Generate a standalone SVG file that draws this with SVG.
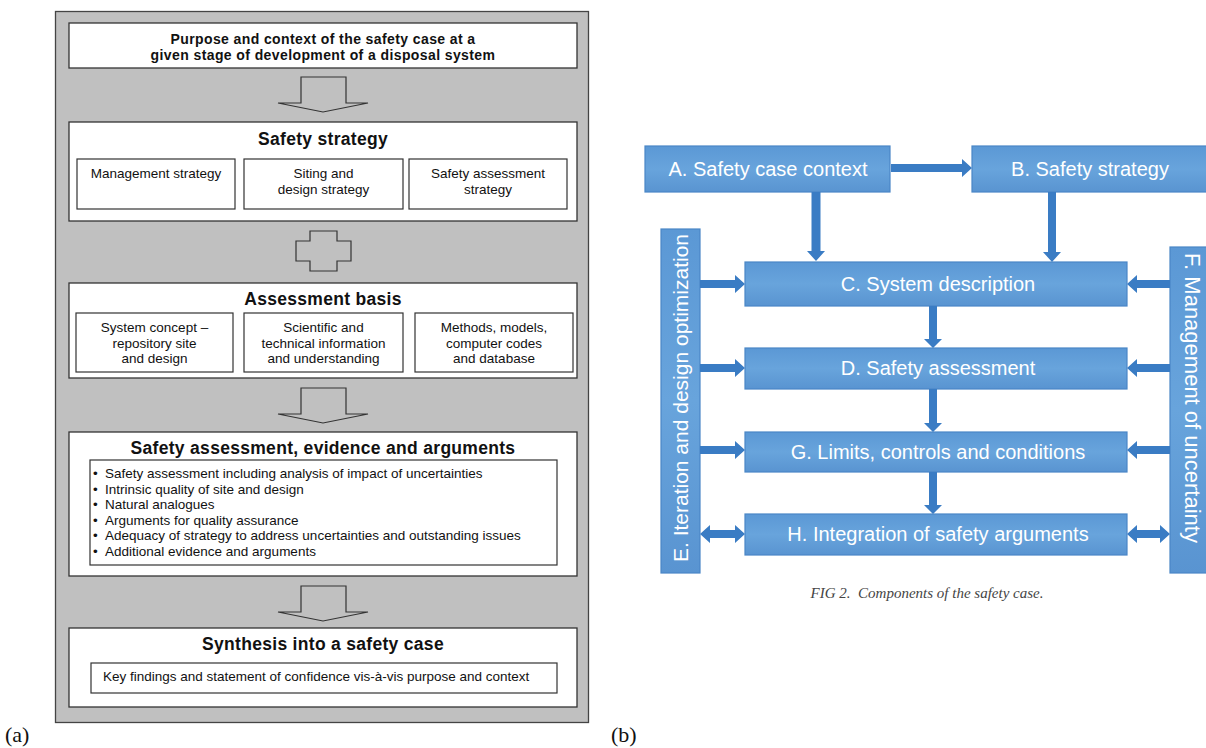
<svg xmlns="http://www.w3.org/2000/svg" width="1206" height="748" viewBox="0 0 1206 748">
<defs>
<style>
.wb{fill:#fff;stroke:#333;stroke-width:1.3}
.sb{fill:#fff;stroke:#333;stroke-width:1.2}
.blk{fill:none;stroke:#333;stroke-width:1.2}
.t13b{font-family:"Liberation Sans",Arial,sans-serif;font-size:14px;letter-spacing:0.4px;font-weight:bold;fill:#111;text-anchor:middle}
.t16b{font-family:"Liberation Sans",Arial,sans-serif;font-size:17.5px;letter-spacing:0.3px;font-weight:bold;fill:#111;text-anchor:middle}
.t13{font-family:"Liberation Sans",Arial,sans-serif;font-size:13.5px;fill:#111;text-anchor:middle}
.t12{font-family:"Liberation Sans",Arial,sans-serif;font-size:13.5px;fill:#111}
.bx{fill:url(#bg);stroke:#4a86c6;stroke-width:1.2}
.wt{font-family:"Liberation Sans",Arial,sans-serif;font-size:20px;fill:#fff;text-anchor:middle}
.ar{fill:#3a7cc4}
.lab{font-family:"Liberation Serif","Times New Roman",serif;font-size:22px;fill:#111}
</style>
<linearGradient id="bg" x1="0" y1="0" x2="0" y2="1">
<stop offset="0" stop-color="#5b98d5"/>
<stop offset="0.5" stop-color="#68a4dc"/>
<stop offset="1" stop-color="#5994d1"/>
</linearGradient>
</defs>
<rect width="1206" height="748" fill="#fff"/>

<!-- Panel (a) -->
<g id="panel-a">
<rect x="55.5" y="11.5" width="533" height="711" fill="#c0c0c0" stroke="#444" stroke-width="1.3"/>
</g>
<g id="purpose">
<rect class="wb" x="69" y="23" width="508" height="45"/>
<text class="t13b" x="323" y="44">Purpose and context of the safety case at a</text>
<text class="t13b" x="323" y="60">given stage of development of a disposal system</text>
</g>
<g id="safety-strategy">
<rect class="wb" x="69" y="122" width="508" height="99"/>
<text class="t16b" x="323" y="145">Safety strategy</text>
<rect class="sb" x="77" y="159" width="158" height="50"/>
<text class="t13" x="156" y="178">Management strategy</text>
<rect class="sb" x="244" y="159" width="159" height="50"/>
<text class="t13" x="323.5" y="178">Siting and</text>
<text class="t13" x="323.5" y="194">design strategy</text>
<rect class="sb" x="409" y="159" width="158" height="50"/>
<text class="t13" x="488" y="178">Safety assessment</text>
<text class="t13" x="488" y="194">strategy</text>
</g>
<g id="assessment-basis">
<rect class="wb" x="69" y="283" width="508" height="95"/>
<text class="t16b" x="323" y="305">Assessment basis</text>
<rect class="sb" x="76" y="313" width="157" height="59"/>
<text class="t13" x="154.5" y="332">System concept –</text>
<text class="t13" x="154.5" y="348">repository site</text>
<text class="t13" x="154.5" y="363">and design</text>
<rect class="sb" x="244" y="313" width="159" height="59"/>
<text class="t13" x="323.5" y="332">Scientific and</text>
<text class="t13" x="323.5" y="348">technical information</text>
<text class="t13" x="323.5" y="363">and understanding</text>
<rect class="sb" x="415" y="313" width="158" height="59"/>
<text class="t13" x="494" y="332">Methods, models,</text>
<text class="t13" x="494" y="348">computer codes</text>
<text class="t13" x="494" y="363">and database</text>
</g>
<g id="safety-assessment-evidence">
<rect class="wb" x="69" y="432" width="508" height="144"/>
<text class="t16b" x="323" y="454">Safety assessment, evidence and arguments</text>
<rect class="sb" x="90" y="460" width="467" height="105"/>
<g class="t12">
<text x="93" y="478">•</text><text x="105" y="478">Safety assessment including analysis of impact of uncertainties</text>
<text x="93" y="493.5">•</text><text x="105" y="493.5">Intrinsic quality of site and design</text>
<text x="93" y="509">•</text><text x="105" y="509">Natural analogues</text>
<text x="93" y="524.5">•</text><text x="105" y="524.5">Arguments for quality assurance</text>
<text x="93" y="540">•</text><text x="105" y="540">Adequacy of strategy to address uncertainties and outstanding issues</text>
<text x="93" y="555.5">•</text><text x="105" y="555.5">Additional evidence and arguments</text>
</g>
</g>
<g id="synthesis">
<rect class="wb" x="69" y="628" width="508" height="79"/>
<text class="t16b" x="323" y="650">Synthesis into a safety case</text>
<rect class="sb" x="91" y="663" width="466" height="30"/>
<text class="t12" x="103" y="681">Key findings and statement of confidence vis-à-vis purpose and context</text>
</g>
<g id="connectors-a">
<path class="blk" d="M301,77 H346 V103 H368 L323,112 L278,103 H301 Z"/>
<path class="blk" d="M310,231 H337 V241 H351 V261 H337 V271 H310 V261 H296 V241 H310 Z"/>
<path class="blk" d="M301,388 H346 V414 H368 L323,423 L278,414 H301 Z"/>
<path class="blk" d="M301,586 H346 V612 H368 L323,621 L278,612 H301 Z"/>
</g>
<text class="lab" x="5" y="742">(a)</text>
<text class="lab" x="611" y="742">(b)</text>

<!-- Panel (b) -->
<g id="node-a">
<rect class="bx" x="645" y="146" width="245" height="46"/>
<text class="wt" x="768" y="176">A. Safety case context</text>
</g>
<g id="node-b">
<rect class="bx" x="972" y="146" width="250" height="46"/>
<text class="wt" x="1090" y="176">B. Safety strategy</text>
</g>
<g id="node-e">
<rect class="bx" x="661" y="229" width="39" height="344"/>
<text class="wt" style="font-size:21px" transform="translate(688,398) rotate(-90)">E. Iteration and design optimization</text>
</g>
<g id="node-f">
<rect class="bx" x="1170" y="247" width="50" height="326"/>
<text class="wt" style="font-size:22px" transform="translate(1185,398) rotate(90)">F. Management of uncertainty</text>
</g>
<g id="node-c">
<rect class="bx" x="745" y="262" width="382" height="44"/>
<text class="wt" x="938" y="291">C. System description</text>
</g>
<g id="node-d">
<rect class="bx" x="745" y="348" width="382" height="41"/>
<text class="wt" x="938" y="375">D. Safety assessment</text>
</g>
<g id="node-g">
<rect class="bx" x="745" y="432" width="382" height="40"/>
<text class="wt" x="938" y="459">G. Limits, controls and conditions</text>
</g>
<g id="node-h">
<rect class="bx" x="745" y="514" width="382" height="41"/>
<text class="wt" x="938" y="541">H. Integration of safety arguments</text>
</g>
<g id="connectors-b" class="ar">
<path d="M891,164 H962 V159 L972,168 L962,177 V172 H891 Z"/>
<path d="M811.5,192 V251 H807 L816,261 L825,251 H820.5 V192 Z"/>
<path d="M1048,192 V252 H1043 L1052,262 L1061,252 H1056 V192 Z"/>
<path d="M929,306 V339 H924 L933,348 L942,339 H937 V306 Z"/>
<path d="M929,389 V423 H924 L933,432 L942,423 H937 V389 Z"/>
<path d="M929,472 V505 H924 L933,514 L942,505 H937 V472 Z"/>
<path d="M700,280 H735 V275 L745,284 L735,293 V288 H700 Z"/>
<path d="M700,364 H735 V359 L745,368 L735,377 V372 H700 Z"/>
<path d="M700,446 H735 V441 L745,450 L735,459 V454 H700 Z"/>
<path d="M700,534 L710,525 V530 H735 V525 L745,534 L735,543 V538 H710 V543 Z"/>
<path d="M1170,280 H1137 V275 L1127,284 L1137,293 V288 H1170 Z"/>
<path d="M1170,364 H1137 V359 L1127,368 L1137,377 V372 H1170 Z"/>
<path d="M1170,446 H1137 V441 L1127,450 L1137,459 V454 H1170 Z"/>
<path d="M1127,534 L1137,525 V530 H1160 V525 L1170,534 L1160,543 V538 H1137 V543 Z"/>
</g>
<text x="927" y="598" xml:space="preserve" font-family="'Liberation Serif','Times New Roman',serif" font-size="15" font-style="italic" fill="#444" text-anchor="middle">FIG 2.  Components of the safety case.</text>
</svg>
